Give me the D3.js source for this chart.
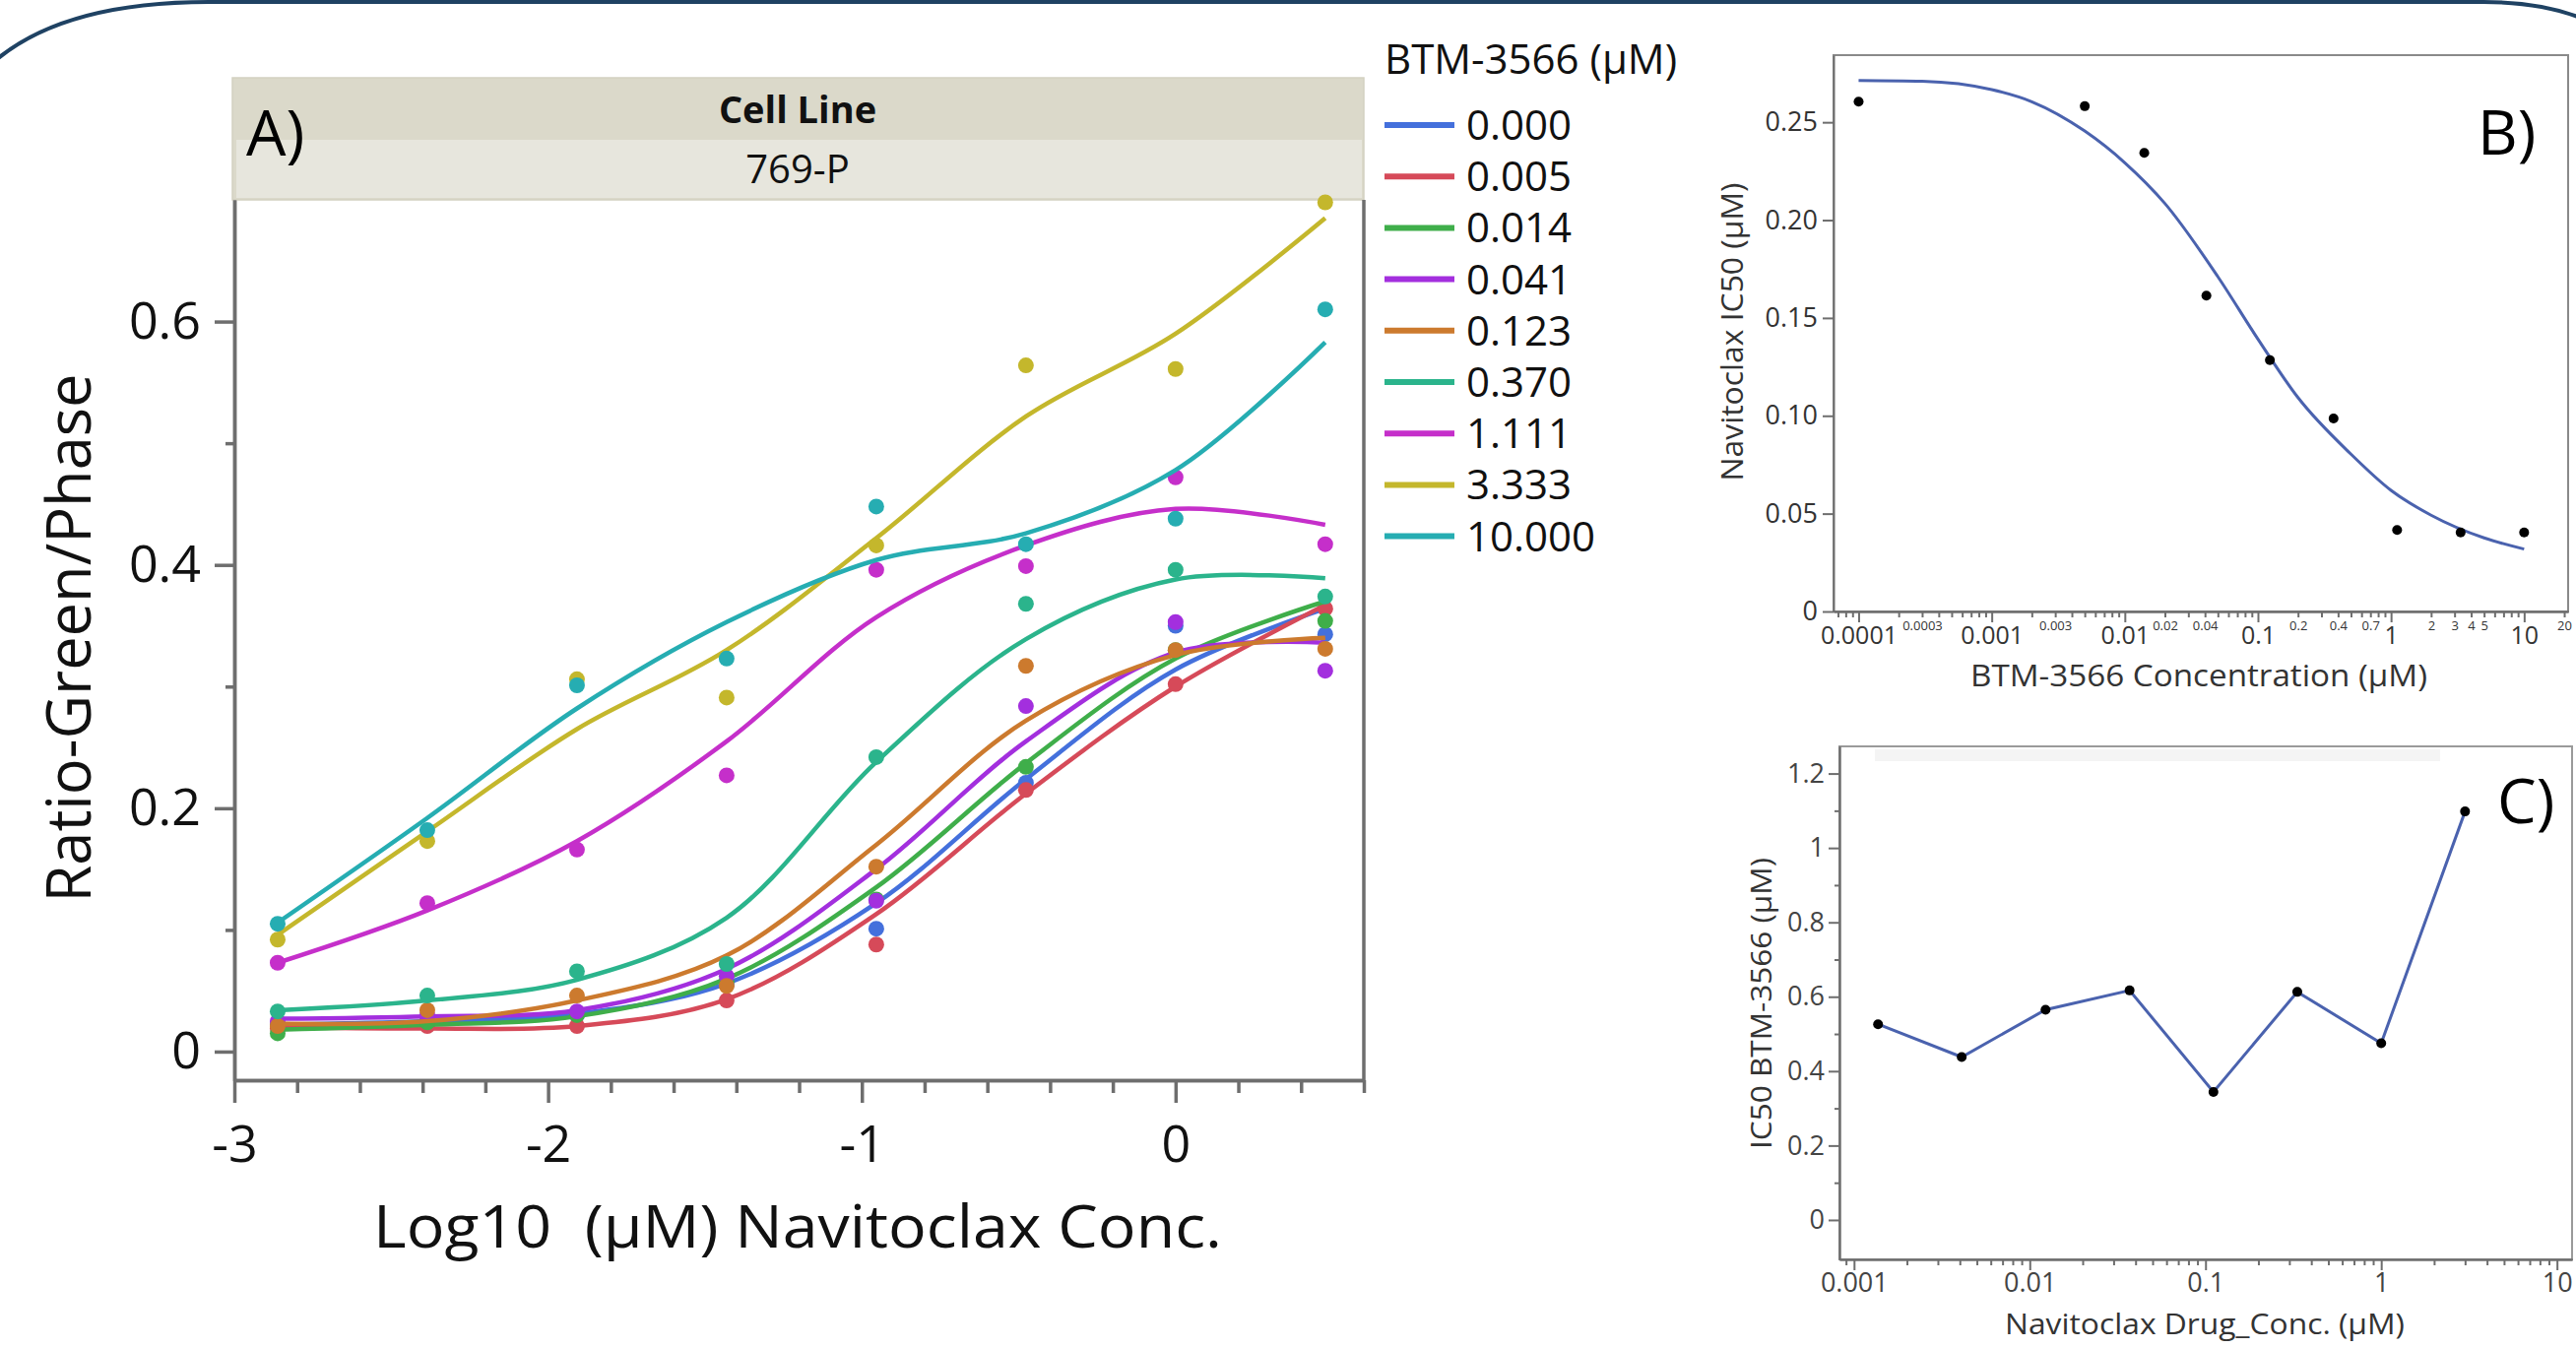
<!DOCTYPE html>
<html>
<head>
<meta charset="utf-8">
<style>
  body { margin: 0; background: #fff; }
  svg { display: block; font-family: 'Open Sans', 'Noto Sans', sans-serif; }
</style>
<script src="https://d3js.org/d3.v7.min.js"></script>
</head>
<body>
<script>
// ---- panel A: Ratio-Green/Phase vs log10 navitoclax, one series per BTM-3566 dose
const logConc = [-2.862, -2.385, -1.908, -1.431, -0.954, -0.477, 0, 0.477];
const btmDoses = ['0.000', '0.005', '0.014', '0.041', '0.123', '0.370', '1.111', '3.333', '10.000'];
const doseColors = ['#4470dc', '#d64a59', '#3fae4a', '#a32fde', '#cc7a2e', '#2bb48c', '#c52fca', '#c4b72c', '#26adb2'];

// measured points
const obs0000 = [0.022, 0.026, 0.030, 0.055, 0.101, 0.221, 0.350, 0.343];
const obs0005 = [0.019, 0.021, 0.021, 0.042, 0.088, 0.215, 0.302, 0.364];
const obs0014 = [0.015, 0.024, 0.030, 0.058, 0.125, 0.234, 0.330, 0.354];
const obs0041 = [0.025, 0.030, 0.033, 0.062, 0.124, 0.284, 0.353, 0.313];
const obs0123 = [0.021, 0.034, 0.046, 0.054, 0.152, 0.317, 0.330, 0.331];
const obs0370 = [0.033, 0.046, 0.066, 0.072, 0.242, 0.368, 0.396, 0.374];
const obs1111 = [0.073, 0.122, 0.166, 0.227, 0.396, 0.399, 0.472, 0.417];
const obs3333 = [0.092, 0.173, 0.306, 0.291, 0.416, 0.564, 0.561, 0.698];
const obs10000 = [0.105, 0.182, 0.301, 0.323, 0.448, 0.417, 0.438, 0.610];

// fitted curves, read at the same x positions
const fit0000 = [0.022, 0.025, 0.031, 0.056, 0.122, 0.224, 0.314, 0.364];
const fit0005 = [0.020, 0.019, 0.021, 0.043, 0.113, 0.212, 0.300, 0.367];
const fit0014 = [0.018, 0.022, 0.029, 0.060, 0.135, 0.237, 0.323, 0.370];
const fit0041 = [0.027, 0.029, 0.034, 0.068, 0.150, 0.255, 0.328, 0.336];
const fit0123 = [0.023, 0.025, 0.042, 0.079, 0.170, 0.272, 0.326, 0.340];
const fit0370 = [0.034, 0.042, 0.059, 0.110, 0.238, 0.339, 0.388, 0.389];
const fit1111 = [0.073, 0.116, 0.173, 0.255, 0.357, 0.416, 0.446, 0.433];
const fit3333 = [0.096, 0.181, 0.265, 0.330, 0.422, 0.522, 0.590, 0.685];
const fit10000 = [0.106, 0.192, 0.282, 0.353, 0.404, 0.426, 0.478, 0.583];

const ratioPoints = [obs0000, obs0005, obs0014, obs0041, obs0123, obs0370, obs1111, obs3333, obs10000];
const ratioFits = [fit0000, fit0005, fit0014, fit0041, fit0123, fit0370, fit1111, fit3333, fit10000];

// ---- panel B: navitoclax IC50 vs BTM-3566 concentration
const btmConc = [0.0001, 0.005, 0.014, 0.041, 0.123, 0.370, 1.111, 3.333, 10];
const navIC50 = [0.2605, 0.2582, 0.2344, 0.1614, 0.1284, 0.0986, 0.0416, 0.0404, 0.0404];
const fitConcB = [0.0001, 0.0003, 0.001, 0.002, 0.005, 0.01, 0.02, 0.05, 0.1, 0.2, 0.5, 1, 2, 5, 10];
const fitIC50B = [0.2714, 0.2710, 0.2667, 0.2605, 0.2455, 0.2293, 0.2085, 0.1711, 0.1392, 0.1093, 0.0804, 0.0619, 0.0492, 0.0376, 0.0319];
const smallLabelsB = [0.0003, 0.003, 0.02, 0.04, 0.2, 0.4, 0.7, 2, 3, 4, 5, 20];

// ---- panel C: BTM-3566 IC50 vs navitoclax concentration
const navConc = [0.00137, 0.0041, 0.0123, 0.037, 0.111, 0.333, 1, 3];
const btmIC50 = [0.526, 0.438, 0.565, 0.617, 0.344, 0.613, 0.475, 1.098];

const W = 2616, H = 1369;
const axisGrey = '#6e6e6e';
const fontFam = "'Open Sans', 'Noto Sans', sans-serif";

const svg = d3.select('body').append('svg').attr('width', W).attr('height', H);

// rounded frame along the top
svg.append('path')
  .attr('d', 'M-12,68 Q58,2 212,2 L2522,2 Q2590,2 2634,24')
  .attr('fill', 'none').attr('stroke', '#1f4263').attr('stroke-width', 4);

function styleAxis(g, fs, color, sw) {
  g.attr('font-family', fontFam).attr('font-size', fs);
  g.select('.domain').attr('stroke', axisGrey).attr('stroke-width', sw);
  g.selectAll('.tick line').attr('stroke', axisGrey).attr('stroke-width', sw);
  g.selectAll('.tick text').attr('fill', color);
}

function minorLogTicks(lo, hi) {
  const out = [];
  for (let e = -6; e <= 2; e++) {
    for (let m = 2; m <= 9; m++) {
      const v = +(m * Math.pow(10, e)).toPrecision(6);
      if (v >= lo && v <= hi) out.push(v);
    }
  }
  return out;
}

// ================= panel A =================
const A = { left: 238, right: 1385, top: 203, bottom: 1097 };
const xA = d3.scaleLinear().domain([-3, 0.6]).range([A.left, A.right]);
const yA = d3.scaleLinear().domain([-0.0235, 0.70]).range([A.bottom, A.top]);

// header strip
svg.append('rect').attr('x', 236).attr('y', 79).attr('width', 1149).attr('height', 124)
  .attr('fill', '#dbd9ca').attr('stroke', '#d3d1c1').attr('stroke-width', 1.5);
svg.append('rect').attr('x', 240).attr('y', 142).attr('width', 1143).attr('height', 59)
  .attr('fill', '#e7e6dd');
svg.append('text').attr('x', 810).attr('y', 125).attr('text-anchor', 'middle')
  .attr('font-size', 38).attr('font-weight', 'bold').attr('fill', '#111').text('Cell Line');
svg.append('text').attr('x', 810).attr('y', 186).attr('text-anchor', 'middle')
  .attr('font-size', 40).attr('fill', '#111').text('769-P');
svg.append('text').attr('x', 250).attr('y', 158)
  .attr('font-size', 64).attr('fill', '#000').text('A)');

// y axis A
const yMinorA = svg.append('g').attr('transform', `translate(${A.left},0)`)
  .call(d3.axisLeft(yA).tickValues([0.1, 0.3, 0.5]).tickSize(9).tickSizeOuter(0).tickFormat(''));
styleAxis(yMinorA, 52, '#111', 3.5);
const yMajorA = svg.append('g').attr('transform', `translate(${A.left},0)`)
  .call(d3.axisLeft(yA).tickValues([0, 0.2, 0.4, 0.6]).tickSize(20).tickPadding(14).tickSizeOuter(0)
    .tickFormat(d => d === 0 ? '0' : d3.format('.1f')(d)));
styleAxis(yMajorA, 52, '#111', 3.5);

// x axis A
const xMinor = d3.range(0, 19).map(i => +(-3 + i * 0.2).toFixed(1)).filter(v => !Number.isInteger(v));
const xMinorA = svg.append('g').attr('transform', `translate(0,${A.bottom})`)
  .call(d3.axisBottom(xA).tickValues(xMinor).tickSize(13).tickSizeOuter(0).tickFormat(''));
styleAxis(xMinorA, 52, '#111', 3.5);
const xMajorA = svg.append('g').attr('transform', `translate(0,${A.bottom})`)
  .call(d3.axisBottom(xA).tickValues([-3, -2, -1, 0]).tickSize(23).tickPadding(23).tickSizeOuter(0)
    .tickFormat(d3.format('d')));
styleAxis(xMajorA, 52, '#111', 3.5);
xMajorA.selectAll('.tick text').text(d => d < 0 ? '-' + Math.abs(d) : d);

// right border of panel A
svg.append('line').attr('x1', A.right).attr('x2', A.right).attr('y1', A.top).attr('y2', A.bottom)
  .attr('stroke', axisGrey).attr('stroke-width', 3.5);

// axis titles A
svg.append('text').attr('x', 810).attr('y', 1267).attr('text-anchor', 'middle')
  .attr('font-size', 60).attr('fill', '#111').style('white-space', 'pre')
  .attr('textLength', 862).attr('lengthAdjust', 'spacingAndGlyphs')
  .text('Log10  (\u00b5M) Navitoclax Conc.');
svg.append('text').attr('transform', 'translate(92,648) rotate(-90)').attr('text-anchor', 'middle')
  .attr('font-size', 62).attr('fill', '#111')
  .attr('textLength', 537).attr('lengthAdjust', 'spacingAndGlyphs')
  .text('Ratio-Green/Phase');

// curves and points
const lineA = d3.line()
  .x((d, i) => xA(logConc[i]))
  .y(d => yA(d))
  .curve(d3.curveCatmullRom.alpha(0.5));

const seriesA = svg.append('g');
btmDoses.forEach((dose, k) => {
  const g = seriesA.append('g');
  g.append('path').datum(ratioFits[k]).attr('d', lineA)
    .attr('fill', 'none').attr('stroke', doseColors[k]).attr('stroke-width', 4.5);
  g.selectAll('circle').data(ratioPoints[k]).join('circle')
    .attr('cx', (d, i) => xA(logConc[i])).attr('cy', d => yA(d)).attr('r', 8)
    .attr('fill', doseColors[k]);
});

// legend
svg.append('text').attr('x', 1406).attr('y', 75).attr('font-size', 42).attr('fill', '#111')
  .text('BTM-3566 (\u00b5M)');
const legRow = d3.scaleLinear().domain([0, 1]).range([127, 179.2]);
const leg = svg.append('g').selectAll('g').data(btmDoses).join('g')
  .attr('transform', (d, i) => `translate(0,${legRow(i)})`);
leg.append('line').attr('x1', 1406).attr('x2', 1477).attr('y1', 0).attr('y2', 0)
  .attr('stroke', (d, i) => doseColors[i]).attr('stroke-width', 6);
leg.append('text').attr('x', 1489).attr('y', 15).attr('font-size', 42).attr('fill', '#111').text(d => d);

// ================= panel B =================
const B = { left: 1862, right: 2608, top: 56, bottom: 621 };
const xB = d3.scaleLog().domain([6.48e-5, 21.4]).range([B.left, B.right]);
const yB = d3.scaleLinear().domain([0, 0.2843]).range([B.bottom, B.top]);

svg.append('rect').attr('x', B.left).attr('y', B.top).attr('width', B.right - B.left).attr('height', B.bottom - B.top)
  .attr('fill', 'none').attr('stroke', '#8a8a8a').attr('stroke-width', 2);

const yAxB = svg.append('g').attr('transform', `translate(${B.left},0)`)
  .call(d3.axisLeft(yB).tickValues([0, 0.05, 0.1, 0.15, 0.2, 0.25]).tickSize(11).tickPadding(5).tickSizeOuter(0)
    .tickFormat(d => d === 0 ? '0' : d3.format('.2f')(d)));
styleAxis(yAxB, 27, '#333', 2);

const minorB = minorLogTicks(6.48e-5, 21.4);
const xMinB = svg.append('g').attr('transform', `translate(0,${B.bottom})`)
  .call(d3.axisBottom(xB).tickValues(minorB).tickSize(6).tickPadding(4).tickSizeOuter(0)
    .tickFormat(d => smallLabelsB.some(s => Math.abs(s - d) / s < 1e-6) ? String(d) : ''));
styleAxis(xMinB, 13, '#333', 2);
const xMajB = svg.append('g').attr('transform', `translate(0,${B.bottom})`)
  .call(d3.axisBottom(xB).tickValues([0.0001, 0.001, 0.01, 0.1, 1, 10]).tickSize(11).tickPadding(4).tickSizeOuter(0)
    .tickFormat(d => String(d)));
styleAxis(xMajB, 25, '#333', 2);

svg.append('text').attr('x', 2233).attr('y', 697).attr('text-anchor', 'middle')
  .attr('font-size', 31).attr('fill', '#333')
  .attr('textLength', 464).attr('lengthAdjust', 'spacingAndGlyphs')
  .text('BTM-3566 Concentration (\u00b5M)');
svg.append('text').attr('transform', 'translate(1770,337) rotate(-90)').attr('text-anchor', 'middle')
  .attr('font-size', 31).attr('fill', '#333')
  .attr('textLength', 303).attr('lengthAdjust', 'spacingAndGlyphs')
  .text('Navitoclax IC50 (\u00b5M)');

const lineB = d3.line().x((d, i) => xB(fitConcB[i])).y(d => yB(d)).curve(d3.curveMonotoneX);
svg.append('path').datum(fitIC50B).attr('d', lineB)
  .attr('fill', 'none').attr('stroke', '#4a62ae').attr('stroke-width', 3);
svg.append('g').selectAll('circle').data(navIC50).join('circle')
  .attr('cx', (d, i) => xB(btmConc[i])).attr('cy', d => yB(d)).attr('r', 5).attr('fill', '#000');

svg.append('text').attr('x', 2516).attr('y', 157).attr('font-size', 63).attr('fill', '#000').text('B)');

// ================= panel C =================
const C = { left: 1868, right: 2612, top: 758, bottom: 1279 };
const xC = d3.scaleLog().domain([Math.pow(10, -3.083), Math.pow(10, 1.086)]).range([C.left, C.right]);
const yC = d3.scaleLinear().domain([-0.106, 1.273]).range([C.bottom, C.top]);

svg.append('rect').attr('x', C.left).attr('y', C.top).attr('width', C.right - C.left).attr('height', C.bottom - C.top)
  .attr('fill', 'none').attr('stroke', '#9a9a9a').attr('stroke-width', 2);
svg.append('rect').attr('x', 1904).attr('y', 761).attr('width', 574).attr('height', 12).attr('fill', '#f4f4f4');

const yMinC = svg.append('g').attr('transform', `translate(${C.left},0)`)
  .call(d3.axisLeft(yC).tickValues([0.1, 0.3, 0.5, 0.7, 0.9, 1.1]).tickSize(5).tickSizeOuter(0).tickFormat(''));
styleAxis(yMinC, 27, '#444', 2);
const yMajC = svg.append('g').attr('transform', `translate(${C.left},0)`)
  .call(d3.axisLeft(yC).tickValues([0, 0.2, 0.4, 0.6, 0.8, 1, 1.2]).tickSize(11).tickPadding(4).tickSizeOuter(0)
    .tickFormat(d3.format('~g')));
styleAxis(yMajC, 27, '#444', 2);

const xMinC = svg.append('g').attr('transform', `translate(0,${C.bottom})`)
  .call(d3.axisBottom(xC).tickValues(minorLogTicks(Math.pow(10, -3.083), Math.pow(10, 1.086))).tickSize(6).tickSizeOuter(0).tickFormat(''));
styleAxis(xMinC, 27, '#444', 2);
const xMajC = svg.append('g').attr('transform', `translate(0,${C.bottom})`)
  .call(d3.axisBottom(xC).tickValues([0.001, 0.01, 0.1, 1, 10]).tickSize(11).tickPadding(3).tickSizeOuter(0)
    .tickFormat(d => String(d)));
styleAxis(xMajC, 27, '#444', 2);

svg.append('text').attr('x', 2239).attr('y', 1355).attr('text-anchor', 'middle')
  .attr('font-size', 30).attr('fill', '#333')
  .attr('textLength', 406).attr('lengthAdjust', 'spacingAndGlyphs')
  .text('Navitoclax Drug_Conc. (\u00b5M)');
svg.append('text').attr('transform', 'translate(1799,1019) rotate(-90)').attr('text-anchor', 'middle')
  .attr('font-size', 30).attr('fill', '#333')
  .attr('textLength', 296).attr('lengthAdjust', 'spacingAndGlyphs')
  .text('IC50 BTM-3566 (\u00b5M)');

const lineC = d3.line().x((d, i) => xC(navConc[i])).y(d => yC(d));
svg.append('path').datum(btmIC50).attr('d', lineC)
  .attr('fill', 'none').attr('stroke', '#4a62ae').attr('stroke-width', 3);
svg.append('g').selectAll('circle').data(btmIC50).join('circle')
  .attr('cx', (d, i) => xC(navConc[i])).attr('cy', d => yC(d)).attr('r', 5).attr('fill', '#000');

svg.append('text').attr('x', 2536).attr('y', 836).attr('font-size', 63).attr('fill', '#000').text('C)');
</script>
</body>
</html>
